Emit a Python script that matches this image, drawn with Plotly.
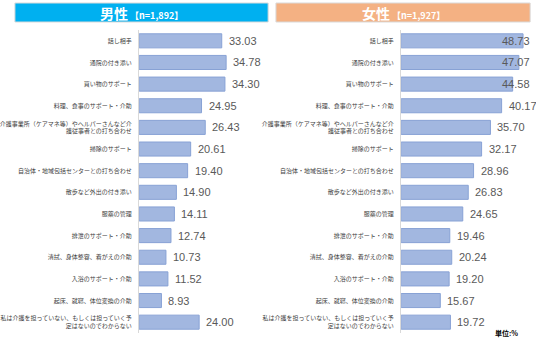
import plotly.graph_objects as go

categories = [
    "話し相手",
    "通院の付き添い",
    "買い物のサポート",
    "料理、食事のサポート・介助",
    "介護事業所（ケアマネ等）やヘルパーさんなど介<br>護従事者との打ち合わせ",
    "掃除のサポート",
    "自治体・地域包括センターとの打ち合わせ",
    "散歩など外出の付き添い",
    "服薬の管理",
    "排泄のサポート・介助",
    "清拭、身体整容、着がえの介助",
    "入浴のサポート・介助",
    "起床、就寝、体位変換の介助",
    "私は介護を担っていない、もしくは担っていく予<br>定はないのでわからない",
]
male = [33.03, 34.78, 34.30, 24.95, 26.43, 20.61, 19.40, 14.90, 14.11, 12.74, 10.73, 11.52, 8.93, 24.00]
female = [48.73, 47.07, 44.58, 40.17, 35.70, 32.17, 28.96, 26.83, 24.65, 19.46, 20.24, 19.20, 15.67, 19.72]
titles = ["男性", "女性"]
ns = ["【n=1,892】", "【n=1,927】"]
header_colors = ["#00b0f0", "#f4b183"]
unit_label = "単位:%"

W, H = 536, 342
XMAX = 50
JP = "Noto Sans CJK JP"
NUM = "Liberation Sans, Arial"

fig = go.Figure()

bar_style = dict(marker=dict(color="#a2b7e0", line=dict(color="#88a2d5", width=1)))
fig.add_trace(go.Bar(y=categories, x=male, orientation="h", xaxis="x", yaxis="y",
                     hoverinfo="skip", **bar_style))
fig.add_trace(go.Bar(y=categories, x=female, orientation="h", xaxis="x2", yaxis="y2",
                     hoverinfo="skip", **bar_style))

xdom = [[130 / W, 258 / W], [398 / W, 526 / W]]
ydom = [1 - 333 / H, 1 - 30 / H]

axis_y = dict(domain=ydom, autorange="reversed", showline=True, linecolor="#d9d9d9",
              linewidth=1, ticks="", showgrid=False, ticklabelstandoff=5,
              tickfont=dict(family=JP, size=6, color="#404040"))
fig.update_layout(
    width=W, height=H, margin=dict(l=0, r=0, t=0, b=0),
    paper_bgcolor="white", plot_bgcolor="white", showlegend=False,
    bargap=0.35,
    xaxis=dict(domain=xdom[0], range=[0, XMAX], visible=False, fixedrange=True),
    xaxis2=dict(domain=xdom[1], range=[0, XMAX], visible=False, anchor="y2", fixedrange=True),
    yaxis=dict(anchor="x", **axis_y),
    yaxis2=dict(anchor="x2", **axis_y),
)

# value labels (clamped at the right edge like the original chart)
px_per_unit = (xdom[0][1] - xdom[0][0]) * W / XMAX
text_w_px = 25
gap_px = 5
limit_px = 6  # text can reach a few px beyond plot edge
annotations = []
for k, vals in enumerate([male, female]):
    xr = "x" if k == 0 else "x2"
    yr = "y" if k == 0 else "y2"
    for c, v in zip(categories, vals):
        right_px = v * px_per_unit + gap_px + text_w_px
        if right_px > XMAX * px_per_unit + limit_px:
            annotations.append(dict(x=XMAX, y=c, xref=xr, yref=yr, text=f"{v:.2f}",
                                    showarrow=False, xanchor="right", xshift=limit_px,
                                    yanchor="middle",
                                    font=dict(family=NUM, size=11, color="#595959")))
        else:
            annotations.append(dict(x=v, y=c, xref=xr, yref=yr, text=f"{v:.2f}",
                                    showarrow=False, xanchor="left", xshift=gap_px,
                                    yanchor="middle",
                                    font=dict(family=NUM, size=11, color="#595959")))

# headers
boxes = [(3, 262), (270, 530)]
shapes = []
for (x0, x1), col, t, n in zip(boxes, header_colors, titles, ns):
    shapes.append(dict(type="rect", xref="paper", yref="paper",
                       x0=x0 / W, x1=x1 / W, y0=1 - 22 / H, y1=1 - 3 / H,
                       fillcolor=col, line=dict(color="#d9d9d9", width=1), layer="below"))
    annotations.append(dict(x=(x0 + x1) / 2 / W, y=1 - 12.5 / H, xref="paper", yref="paper",
                            text=f"<b><span style='font-size:14px'>{t}</span>"
                                 f"<span style='font-size:9px'> {n}</span></b>",
                            showarrow=False, xanchor="center", yanchor="middle",
                            font=dict(family=JP, size=14, color="white")))

annotations.append(dict(x=520 / W, y=1 - 333 / H, xref="paper", yref="paper",
                        text=f"<b>{unit_label}</b>", showarrow=False,
                        xanchor="right", yanchor="middle",
                        font=dict(family=JP, size=7, color="#000000")))

fig.update_layout(shapes=shapes, annotations=annotations)
fig.write_html("out.html")
